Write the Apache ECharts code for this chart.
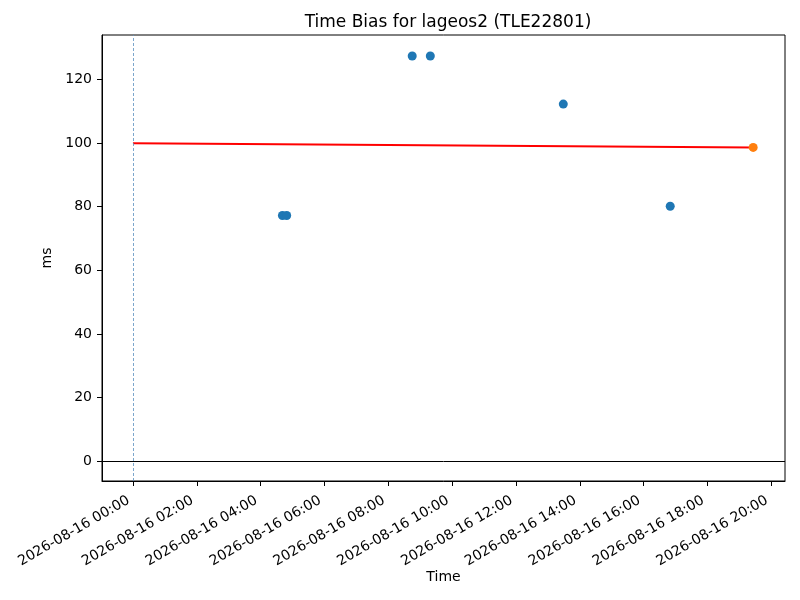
<!DOCTYPE html>
<html lang="en">
<head>
    <meta charset="UTF-8">
    <title>Time Bias for lageos2 (TLE22801)</title>
    <style>
        * { margin: 0; padding: 0; }
        body { background: #fff; }
        #chart { width: 800px; height: 600px; }
    </style>
</head>
<body>
    <div id="chart"></div>
    <script src="https://cdn.jsdelivr.net/npm/echarts@6/dist/echarts.min.js"></script>
    <script>
        // observation times (hh:mm on 2026-08-16) and time bias in ms
        const obsTimes = ['04:41', '04:49', '08:45', '09:19', '13:29', '16:50'];
        const obsBias = [77.2, 77.2, 127.3, 127.3, 112.2, 80.1];

        // latest (predicted) point
        const lastTime = '19:26';
        const lastBias = 98.6;

        // fitted trend line: start and end
        const trendTimes = ['00:00', '19:26'];
        const trendBias = [99.9, 98.6];

        const xTickHours = [0, 2, 4, 6, 8, 10, 12, 14, 16, 18, 20];
        const yTicks = [0, 20, 40, 60, 80, 100, 120];
        const day = '2026-08-16';

        // axis limits (x in hours since 00:00)
        const xMin = -0.97;
        const xMax = 20.43;
        const yMin = -6.2;
        const yMax = 133.9;

        // x positions are hours after midnight of the day above
        function hours(hhmm) {
            const [h, m] = hhmm.split(':').map(Number);
            return h + m / 60;
        }
        function tickLabel(h) {
            const hh = String(Math.round(h)).padStart(2, '0');
            return day + ' ' + hh + ':00';
        }

        const obsData = obsTimes.map((t, i) => [hours(t), obsBias[i]]);
        const trendData = trendTimes.map((t, i) => [hours(t), trendBias[i]]);

        const chart = echarts.init(document.getElementById('chart'));
        const font = 'DejaVu Sans';

        chart.setOption({
            animation: false,
            textStyle: { fontFamily: font },
            title: {
                text: 'Time Bias for lageos2 (TLE22801)',
                left: 443,
                top: 9,
                textAlign: 'center',
                textStyle: { fontFamily: font, fontSize: 17, fontWeight: 'normal', color: '#000' }
            },
            grid: {
                left: 102, right: 15, top: 35, bottom: 119,
                show: true, borderColor: '#000', borderWidth: 1, backgroundColor: 'transparent'
            },
            xAxis: {
                type: 'value',
                min: xMin,
                max: xMax,
                name: 'Time',
                nameLocation: 'middle',
                nameGap: 89,
                nameMoveOverlap: false,
                nameTextStyle: { fontFamily: font, fontSize: 14, color: '#000' },
                axisLine: { show: true, onZero: false, lineStyle: { color: '#000', width: 1 } },
                axisTick: { show: true, length: 5, lineStyle: { color: '#000' }, customValues: xTickHours },
                axisLabel: {
                    customValues: xTickHours,
                    rotate: 30,
                    fontFamily: font,
                    fontSize: 14,
                    color: '#000',
                    margin: 16,
                    padding: [0, 5, 0, 0],
                    formatter: tickLabel
                },
                splitLine: { show: false }
            },
            yAxis: {
                type: 'value',
                min: yMin,
                max: yMax,
                name: 'ms',
                nameLocation: 'middle',
                nameGap: 41,
                nameTextStyle: { fontFamily: font, fontSize: 14, color: '#000' },
                axisLine: { show: true, onZero: false, lineStyle: { color: '#000', width: 1 } },
                axisTick: { show: true, length: 5, lineStyle: { color: '#000' }, customValues: yTicks },
                axisLabel: { customValues: yTicks, fontFamily: font, fontSize: 14, color: '#000', margin: 10 },
                splitLine: { show: false }
            },
            series: [
                {
                    name: 'trend',
                    type: 'line',
                    data: trendData,
                    symbol: 'none',
                    lineStyle: { color: '#ff0000', width: 2 },
                    z: 3,
                    markLine: {
                        silent: true,
                        symbol: 'none',
                        label: { show: false },
                        data: [
                            { xAxis: 0, lineStyle: { color: '#5b8fbf', width: 0.8, type: [3, 2] } },
                            { yAxis: 0, lineStyle: { color: '#000', width: 1, type: 'solid' } }
                        ]
                    }
                },
                {
                    name: 'observations',
                    type: 'scatter',
                    data: obsData,
                    symbolSize: 9,
                    itemStyle: { color: '#1f77b4', opacity: 1 },
                    z: 4
                },
                {
                    name: 'latest',
                    type: 'scatter',
                    data: [[hours(lastTime), lastBias]],
                    symbolSize: 9,
                    itemStyle: { color: '#ff7f0e', opacity: 1 },
                    z: 5
                }
            ]
        });
    </script>
</body>
</html>
